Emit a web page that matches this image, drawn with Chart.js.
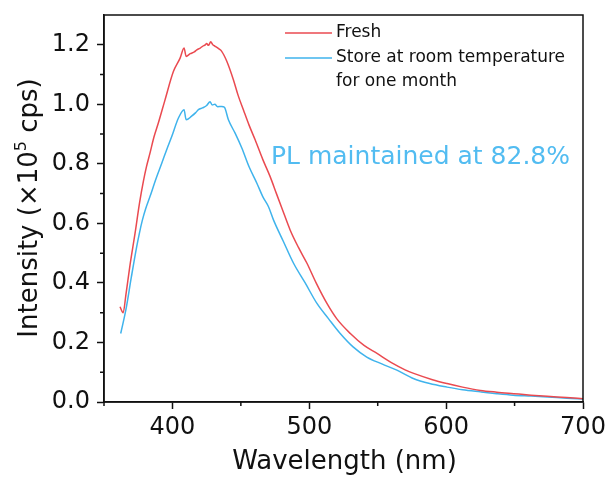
<!DOCTYPE html>
<html>
<head>
<meta charset="utf-8">
<script src="https://cdn.jsdelivr.net/npm/chart.js@4"></script>
<style>
  html, body { margin: 0; padding: 0; background: #fff; }
  #wrap { width: 609px; height: 480px; }
</style>
</head>
<body>
<div id="wrap"><canvas id="plChart" width="609" height="480"></canvas></div>
<script>
const freshX = [361.7, 364, 366, 369, 372.7, 376, 378.8, 381, 383.6, 386.5, 389.7, 394.6, 400.7, 405.6, 408.5, 410,
    413, 416, 417.8, 420, 422, 424, 425, 426.3, 428, 429.5, 431.2, 434, 436, 439.8, 444.6, 448, 451.9, 456, 460.5,
    466, 471.4, 476, 480, 486, 492, 498.3, 505, 512.9, 520, 530, 540, 549.5, 560, 570, 576.3, 590, 600.7, 612, 625,
    637, 649.4, 662, 673.8, 688, 700];
const freshY = [0.32, 0.30, 0.36, 0.46, 0.567, 0.67, 0.742, 0.79, 0.836, 0.89, 0.937, 1.015, 1.11, 1.155, 1.189, 1.161,
    1.17, 1.176, 1.183, 1.188, 1.195, 1.2, 1.204, 1.198, 1.21, 1.2, 1.195, 1.186, 1.178, 1.144, 1.082, 1.03, 0.981, 0.93, 0.88,
    0.815, 0.757, 0.70, 0.651, 0.578, 0.52, 0.466, 0.40, 0.331, 0.28, 0.230, 0.19, 0.163, 0.132, 0.108, 0.096, 0.075, 0.062, 0.05, 0.039,
    0.033, 0.028, 0.023, 0.019, 0.015, 0.011];

const storedX = [362.2, 366, 370, 373.9, 376, 378, 380.5, 383.6, 388, 392.2, 396, 399.5, 404.4, 408.5, 410, 414, 417,
    419, 422, 425, 427.5, 429, 431, 433, 436, 438, 440.9, 445.8, 450.7, 456, 461.7, 466, 470.2, 473.9, 481,
    488.5, 497, 505.6, 514, 522.6, 532, 542, 553, 564, 576, 588, 600.7, 612, 625, 637, 649, 662, 674, 688, 700];
const storedY = [0.23, 0.31, 0.42, 0.522, 0.57, 0.61, 0.65, 0.69, 0.75, 0.802, 0.85, 0.892, 0.954, 0.982, 0.948, 0.96, 0.972,
    0.982, 0.988, 0.996, 1.009, 0.998, 1.0, 0.992, 0.993, 0.99, 0.948, 0.903, 0.853, 0.79, 0.735, 0.69, 0.656, 0.611, 0.54,
    0.466, 0.40, 0.331, 0.28, 0.23, 0.185, 0.151, 0.128, 0.107, 0.079, 0.062, 0.05, 0.041, 0.034, 0.028, 0.023, 0.02, 0.017, 0.013, 0.01];

const xTicks = [400, 500, 600, 700];
const xMinor = [350, 450, 550, 650];
const yTicks = [0, 0.2, 0.4, 0.6, 0.8, 1.0, 1.2];
const yMinor = [0.1, 0.3, 0.5, 0.7, 0.9, 1.1];

const seriesLabels = ["Fresh", "Store at room temperature|for one month"];
const noteText = "PL maintained at 82.8%";

const RED = "#ea4a50";
const BLUE = "#3fb3ec";
const FONT = "'DejaVu Sans', sans-serif";

function toPoints(xs, ys) {
    return xs.map((x, i) => ({ x: x, y: ys[i] }));
}

const extras = {
    id: "extras",
    afterDraw(chart) {
        const ctx = chart.ctx;
        const a = chart.chartArea;
        const xs = chart.scales.x, ys = chart.scales.y;
        ctx.save();

        // box
        ctx.strokeStyle = "#111";
        ctx.lineWidth = 1.5;
        ctx.strokeRect(a.left, a.top, a.right - a.left, a.bottom - a.top);

        // minor ticks
        ctx.beginPath();
        xMinor.forEach(v => {
            const p = xs.getPixelForValue(v);
            ctx.moveTo(p, a.bottom);
            ctx.lineTo(p, a.bottom + 4);
        });
        yMinor.forEach(v => {
            const p = ys.getPixelForValue(v);
            ctx.moveTo(a.left, p);
            ctx.lineTo(a.left - 4, p);
        });
        ctx.stroke();

        // legend
        ctx.font = "17px " + FONT;
        ctx.fillStyle = "#111";
        ctx.textBaseline = "middle";
        ctx.textAlign = "left";
        chart.data.datasets.forEach((ds, i) => {
            const y = 33 + i * 25;
            ctx.strokeStyle = ds.borderColor;
            ctx.lineWidth = 1.5;
            ctx.beginPath();
            ctx.moveTo(285, y);
            ctx.lineTo(332, y);
            ctx.stroke();
            seriesLabels[i].split("|").forEach((t, j) => {
                ctx.fillText(t, 336, y + j * 24);
            });
        });

        // note
        ctx.font = "25px " + FONT;
        ctx.fillStyle = "#52bcf1";
        ctx.fillText(noteText, 271, 157);

        // x title
        ctx.font = "26px " + FONT;
        ctx.fillStyle = "#111";
        ctx.textAlign = "center";
        ctx.fillText("Wavelength (nm)", (a.left + a.right) / 2 + 1, 462);

        // y title with superscript
        ctx.translate(30, 208);
        ctx.rotate(-Math.PI / 2);
        const p1 = "Intensity (\u00d710", sup = "5", p2 = " cps)";
        ctx.font = "26px " + FONT;
        const w1 = ctx.measureText(p1).width, w3 = ctx.measureText(p2).width;
        ctx.font = "16px " + FONT;
        const w2 = ctx.measureText(sup).width;
        let x0 = -(w1 + w2 + w3) / 2;
        ctx.textAlign = "left";
        ctx.font = "26px " + FONT;
        ctx.fillText(p1, x0, 0);
        ctx.font = "16px " + FONT;
        ctx.fillText(sup, x0 + w1, -8);
        ctx.font = "26px " + FONT;
        ctx.fillText(p2, x0 + w1 + w2, 0);

        ctx.restore();
    }
};

new Chart(document.getElementById("plChart"), {
    type: "line",
    data: {
        datasets: [
            { label: "Fresh", data: toPoints(freshX, freshY), borderColor: RED },
            { label: "Stored", data: toPoints(storedX, storedY), borderColor: BLUE }
        ]
    },
    options: {
        responsive: false,
        animation: false,
        events: [],
        elements: {
            line: { borderWidth: 1.5, cubicInterpolationMode: "monotone", fill: false },
            point: { radius: 0 }
        },
        layout: { padding: { left: 0, top: 15, right: 26, bottom: 0 } },
        plugins: { legend: { display: false }, tooltip: { enabled: false } },
        scales: {
            x: {
                type: "linear",
                min: 350,
                max: 700,
                afterBuildTicks: s => { s.ticks = xTicks.map(v => ({ value: v })); },
                afterFit: s => { s.height = 78; s.paddingLeft = 0; s.paddingRight = 0; },
                grid: { drawOnChartArea: false, drawTicks: true, tickLength: 7, tickWidth: 1.5, tickColor: "#111" },
                border: { display: true, color: "#111", width: 1.5 },
                ticks: { color: "#111", font: { family: FONT, size: 24 }, padding: 4, maxRotation: 0 }
            },
            y: {
                type: "linear",
                min: 0,
                max: 1.3,
                afterBuildTicks: s => { s.ticks = yTicks.map(v => ({ value: v })); },
                afterFit: s => { s.width = 104; s.paddingTop = 0; s.paddingBottom = 0; },
                grid: { drawOnChartArea: false, drawTicks: true, tickLength: 7, tickWidth: 1.5, tickColor: "#111" },
                border: { display: true, color: "#111", width: 1.5 },
                ticks: { color: "#111", font: { family: FONT, size: 24 }, padding: 7, callback: v => v.toFixed(1) }
            }
        }
    },
    plugins: [extras]
});
</script>
</body>
</html>
